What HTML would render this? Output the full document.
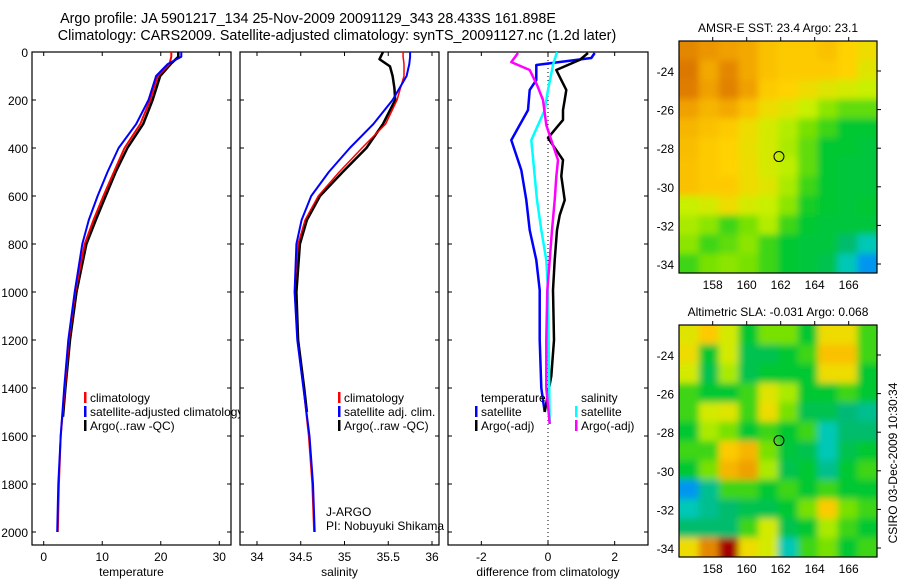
<!DOCTYPE html>
<html><head><meta charset="utf-8">
<style>
html,body{margin:0;padding:0;background:#fff;}
svg{display:block;font-family:"Liberation Sans",sans-serif;}
text{fill:#000;}
</style></head>
<body>
<svg id="chart" width="900" height="580" viewBox="0 0 900 580" xmlns="http://www.w3.org/2000/svg">
<defs>
<clipPath id="clip1"><rect x="0" y="0" width="240" height="580"/></clipPath>
<clipPath id="clip2"><rect x="240" y="0" width="208" height="580"/></clipPath>
<clipPath id="cm1"><rect x="679" y="41" width="198" height="232"/></clipPath>
<clipPath id="cm2"><rect x="679" y="325" width="198" height="232"/></clipPath>
<filter id="blur" x="-20%" y="-20%" width="140%" height="140%"><feGaussianBlur stdDeviation="3.5"/></filter>
</defs>
<text x="308" y="23" font-size="14.3" text-anchor="middle">Argo profile: JA 5901217_134 25-Nov-2009 20091129_343 28.433S 161.898E</text>
<text x="337" y="40" font-size="14.3" text-anchor="middle">Climatology: CARS2009. Satellite-adjusted climatology: synTS_20091127.nc (1.2d later)</text>
<g id="g"></g>
</svg>
<script>
// ---- profile data ----
const depthT = [0,20,50,100,200,300,400,500,600,700,800,1000,1200,1400,1600,1800,2000];
const tempClim = [21.8,21.8,21.5,19.5,18.2,16.5,13.8,12.0,10.2,8.5,7.0,5.4,4.3,3.6,2.9,2.6,2.4];
const tempSat = [23.5,23.5,21.2,19.2,17.9,15.8,12.8,10.9,9.2,7.7,6.6,5.3,4.2,3.5,2.9,2.5,2.3];
const depthTA = [0,20,50,100,200,300,400,500,600,700,800,1000,1200,1400,1520];
const tempArgo = [23.0,23.0,21.7,19.9,18.6,17.0,14.3,12.3,10.6,8.9,7.3,5.6,4.5,3.7,3.3];
const salClim = [35.67,35.67,35.68,35.68,35.60,35.47,35.20,34.94,34.70,34.55,34.47,34.43,34.46,34.53,34.59,34.63,34.65];
const salSat = [35.75,35.75,35.74,35.71,35.55,35.33,35.06,34.82,34.62,34.51,34.45,34.43,34.46,34.53,34.60,34.64,34.66];
const depthSA = [0,30,60,100,150,200,300,400,500,600,700,800,1000,1200,1400,1500];
const salArgo = [35.44,35.40,35.52,35.55,35.57,35.58,35.44,35.25,34.98,34.72,34.57,34.49,34.45,34.47,34.54,34.57];
const dDepthB = [4,25,54,117,158,242,367,492,617,742,867,992,1200,1400,1500];
const diffTsat = [1.4,1.3,-0.35,-0.35,-0.55,-0.6,-1.1,-0.8,-0.65,-0.55,-0.35,-0.25,-0.25,-0.2,-0.1];
const dDepthK = [4,33,75,117,158,200,242,283,358,450,517,617,680,742,867,992,1200,1350,1500];
const diffTargo = [1.2,0.95,0.25,0.4,0.55,0.5,0.45,0.45,0.0,0.45,0.4,0.5,0.35,0.27,0.2,0.15,0.18,0.1,-0.1];
const dDepthC = [0,54,158,242,367,617,742,867,992,1550];
const diffSsat = [0.27,0.15,0,-0.1,-0.5,-0.33,-0.2,-0.05,0,0.05];
const dDepthM = [4,42,75,137,200,304,367,450,520,617,742,867,992,1200,1400,1550];
const diffSargo = [-0.9,-1.1,-0.55,-0.33,-0.15,-0.05,0.1,0.3,0.25,0.2,0.12,0.05,-0.02,-0.05,-0.05,0.05];
const depthTicks = [0,200,400,600,800,1000,1200,1400,1600,1800,2000];
const tempTicks = [0,10,20,30];
const salTicks = [34,34.5,35,35.5,36];
const diffTicks = [-2,0,2];
// ---- map data ----
const lonTicks = [158,160,162,164,166];
const latTicks = [-24,-26,-28,-30,-32,-34];
const sstGrid = [
[0.95,0.92,0.9,0.88,0.82,0.8,0.8,0.82,0.78,0.75],
[0.98,0.88,0.95,0.88,0.82,0.8,0.8,0.8,0.78,0.72],
[0.97,0.9,0.96,0.9,0.8,0.78,0.75,0.72,0.7,0.68],
[0.9,0.85,0.88,0.82,0.75,0.72,0.68,0.62,0.58,0.58],
[0.85,0.82,0.8,0.75,0.7,0.66,0.6,0.55,0.5,0.5],
[0.83,0.8,0.78,0.74,0.7,0.65,0.58,0.5,0.5,0.48],
[0.82,0.8,0.78,0.75,0.7,0.67,0.58,0.5,0.48,0.48],
[0.82,0.8,0.8,0.75,0.72,0.65,0.55,0.5,0.48,0.48],
[0.68,0.7,0.75,0.7,0.68,0.62,0.52,0.5,0.48,0.5],
[0.65,0.62,0.55,0.6,0.66,0.55,0.5,0.48,0.48,0.48],
[0.62,0.55,0.58,0.62,0.55,0.5,0.48,0.48,0.4,0.3],
[0.55,0.6,0.62,0.6,0.55,0.5,0.48,0.45,0.3,0.15]];
const slaGrid = [
[0.72,0.8,0.7,0.5,0.6,0.6,0.5,0.75,0.75,0.55],
[0.75,0.5,0.7,0.45,0.45,0.5,0.55,0.82,0.82,0.55],
[0.7,0.45,0.65,0.45,0.5,0.5,0.5,0.75,0.75,0.5],
[0.55,0.5,0.5,0.55,0.72,0.65,0.5,0.5,0.55,0.5],
[0.55,0.7,0.72,0.55,0.75,0.6,0.45,0.45,0.38,0.35],
[0.5,0.65,0.6,0.5,0.55,0.5,0.55,0.3,0.4,0.4],
[0.55,0.55,0.8,0.85,0.6,0.48,0.45,0.3,0.45,0.5],
[0.5,0.6,0.85,0.9,0.65,0.45,0.5,0.35,0.5,0.55],
[0.15,0.35,0.55,0.55,0.5,0.55,0.5,0.55,0.5,0.5],
[0.3,0.35,0.4,0.45,0.45,0.5,0.6,0.8,0.6,0.55],
[0.4,0.4,0.4,0.55,0.7,0.45,0.5,0.65,0.55,0.5],
[0.75,0.95,1.1,0.75,0.7,0.3,0.55,0.6,0.5,0.55]];
const argoLon = 161.898, argoLat = -28.433;

const NS = "http://www.w3.org/2000/svg";
const G = document.getElementById('g');
function mk(tag, attrs, parent){const e=document.createElementNS(NS,tag);for(const k in attrs)e.setAttribute(k,attrs[k]);(parent||G).appendChild(e);return e;}
function txt(s,attrs,parent){const e=mk('text',attrs,parent);e.textContent=s;return e;}

const yTop=52, yBot=545;
const yD = d => 52 + d*0.24;
function lin(d0,d1,p0,p1){return v=>p0+(v-d0)*(p1-p0)/(d1-d0);}
const panels = [
 {x0:32,x1:231,xs:lin(-2,32,32,231),ticks:tempTicks,label:'temperature',name:'temperature'},
 {x0:240,x1:439,xs:lin(34,36,257,432),ticks:salTicks,label:'salinity',name:'salinity'},
 {x0:448,x1:648,xs:lin(-3,3,448,648),ticks:diffTicks,label:'difference from climatology',name:'difference'}
];
panels.forEach((p,i)=>{
  const fr=mk('rect',{x:p.x0,y:yTop,width:p.x1-p.x0,height:yBot-yTop,fill:'none',stroke:'#000','stroke-width':1.2});
  
  
  p.ticks.forEach(t=>{
    const x=p.xs(t);
    mk('line',{x1:x,x2:x,y1:yTop,y2:yTop+4,stroke:'#000'});
    mk('line',{x1:x,x2:x,y1:yBot,y2:yBot-4,stroke:'#000'});
    const tl=txt(String(t),{x:x,y:561,'font-size':12,'text-anchor':'middle'});
    
    
  });
  depthTicks.forEach(d=>{
    mk('line',{x1:p.x0,x2:p.x0+4,y1:yD(d),y2:yD(d),stroke:'#000'});
    mk('line',{x1:p.x1,x2:p.x1-4,y1:yD(d),y2:yD(d),stroke:'#000'});
  });
  const at=txt(p.label,{x:(p.x0+p.x1)/2,y:576,'font-size':12,'text-anchor':'middle'});
  
  
});
depthTicks.forEach(d=>{
  const t=txt(String(d),{x:28,y:yD(d)+5,'font-size':12,'text-anchor':'end'});
  
  
});
function line(depths,vals,xs,color,w,name){
  const pts=depths.map((d,i)=>xs(vals[i]).toFixed(1)+','+yD(d).toFixed(1)).join(' ');
  const e=mk('polyline',{points:pts,fill:'none',stroke:color,'stroke-width':w,'stroke-linejoin':'round'});
  
  
}
const P=panels;
line(depthTA,tempArgo,P[0].xs,'#000',2.5,'temp-argo-line');
line(depthT,tempClim,P[0].xs,'#f00',2,'temp-climatology-line');
line(depthT,tempSat,P[0].xs,'#00f',2,'temp-satellite-line');
line(depthSA,salArgo,P[1].xs,'#000',2.5,'sal-argo-line');
line(depthT,salClim,P[1].xs,'#f00',1.5,'sal-climatology-line');
line(depthT,salSat,P[1].xs,'#00f',2,'sal-satellite-line');
const zl=mk('line',{x1:P[2].xs(0),x2:P[2].xs(0),y1:yTop,y2:yBot,stroke:'#000','stroke-dasharray':'1,3'});


line(dDepthB,diffTsat,P[2].xs,'#00f',2.5,'diff-temp-satellite-line');
line(dDepthK,diffTargo,P[2].xs,'#000',2.5,'diff-temp-argo-line');
line(dDepthC,diffSsat,P[2].xs,'#0ff',2.5,'diff-sal-satellite-line');
line(dDepthM,diffSargo,P[2].xs,'#f0f',2.5,'diff-sal-argo-line');

function legend(items,x,y,clip,name){
  const g=mk('g',clip?{'clip-path':'url(#'+clip+')'}:{});
  
  
  items.forEach((it,i)=>{
    const yy=y+i*14;
    if(it[1]) mk('rect',{x:x-6,y:yy-10,width:2.5,height:11,fill:it[1]},g);
    txt(it[0],{x:x,y:yy,'font-size':12},g);
  });
}
legend([['climatology','#f00'],['satellite-adjusted climatology','#00f'],['Argo(..raw -QC)','#000']],90,402,'clip1','temp-legend');
legend([['climatology','#f00'],['satellite adj. clim.','#00f'],['Argo(..raw -QC)','#000']],344,402,null,'sal-legend');
legend([['temperature',null],['satellite','#00f'],['Argo(-adj)','#000']],481,402,null,'diff-temp-legend');
legend([['salinity',null],['satellite','#0ff'],['Argo(-adj)','#f0f']],581,402,null,'diff-sal-legend');
const pi=mk('g',{'clip-path':'url(#clip2)'});


txt('J-ARGO',{x:326,y:516,'font-size':12},pi);
txt('PI: Nobuyuki Shikama',{x:326,y:530,'font-size':12},pi);

// ---- maps ----
const stops=[[0,[0,70,220]],[0.15,[0,150,240]],[0.25,[0,210,220]],[0.38,[0,185,120]],[0.5,[0,200,50]],[0.6,[120,225,0]],[0.68,[200,240,0]],[0.78,[255,210,0]],[0.9,[240,160,0]],[1.0,[215,110,0]],[1.1,[165,0,0]]];
function cmap(v){
  for(let i=1;i<stops.length;i++){if(v<=stops[i][0]){const a=stops[i-1],b=stops[i],t=(v-a[0])/(b[0]-a[0]);return 'rgb('+a[1].map((c,k)=>Math.round(c+(b[1][k]-c)*t)).join(',')+')';}}
  const l=stops[stops.length-1][1];return 'rgb('+l.join(',')+')';
}
function drawMap(grid,y0,latY,title,name,clip){
  const x0=679,w=198,h=232;
  const lonX=lin(158,166,712.7,848.7);
  const outer=mk('g',{'clip-path':'url(#'+clip+')'});
  
  
  const g=mk('g',{filter:'url(#blur)'},outer);
  const rows=grid.length, cols=grid[0].length;
  const cw=w/cols, ch=h/rows;
  for(let r=-2;r<rows+2;r++){
    for(let c=-2;c<cols+2;c++){
      const rr=Math.min(rows-1,Math.max(0,r)), cc=Math.min(cols-1,Math.max(0,c));
      const v=grid[rr][cc];
      const cell=mk('rect',{x:(x0+c*cw).toFixed(2),y:(y0+r*ch).toFixed(2),width:(cw+0.6).toFixed(2),height:(ch+0.6).toFixed(2),fill:cmap(v)},g);
      
      
    }
  }
  const fr=mk('rect',{x:x0,y:y0,width:w,height:h,fill:'none',stroke:'#000','stroke-width':1.2});
  
  
  lonTicks.forEach(l=>{
    const x=lonX(l);
    mk('line',{x1:x,x2:x,y1:y0,y2:y0-4,stroke:'#000'});
    const t=txt(String(l),{x:x,y:y0+h+16,'font-size':12,'text-anchor':'middle'});
    
    
  });
  latTicks.forEach(l=>{
    const y=latY(l);
    mk('line',{x1:x0+w,x2:x0+w+4,y1:y,y2:y,stroke:'#000'});
    const t=txt(String(l),{x:674,y:y+5,'font-size':12,'text-anchor':'end'});
    
    
  });
  const c=mk('circle',{cx:lonX(argoLon),cy:latY(argoLat),r:5,fill:'none',stroke:'#000','stroke-width':1});
  
  
  const tt=txt(title,{x:778,y:y0-9,'font-size':12,'text-anchor':'middle'});
  
  
}
drawMap(sstGrid,41,lin(-24,-34,71,264),'AMSR-E SST: 23.4  Argo: 23.1','sst','cm1');
drawMap(slaGrid,325,lin(-24,-34,355,548),'Altimetric SLA: -0.031  Argo: 0.068','sla','cm2');
const cs=txt('CSIRO 03-Dec-2009 10:30:34',{x:0,y:0,'font-size':12,'text-anchor':'middle',transform:'translate(897,463) rotate(-90)'});


</script>
</body></html>
